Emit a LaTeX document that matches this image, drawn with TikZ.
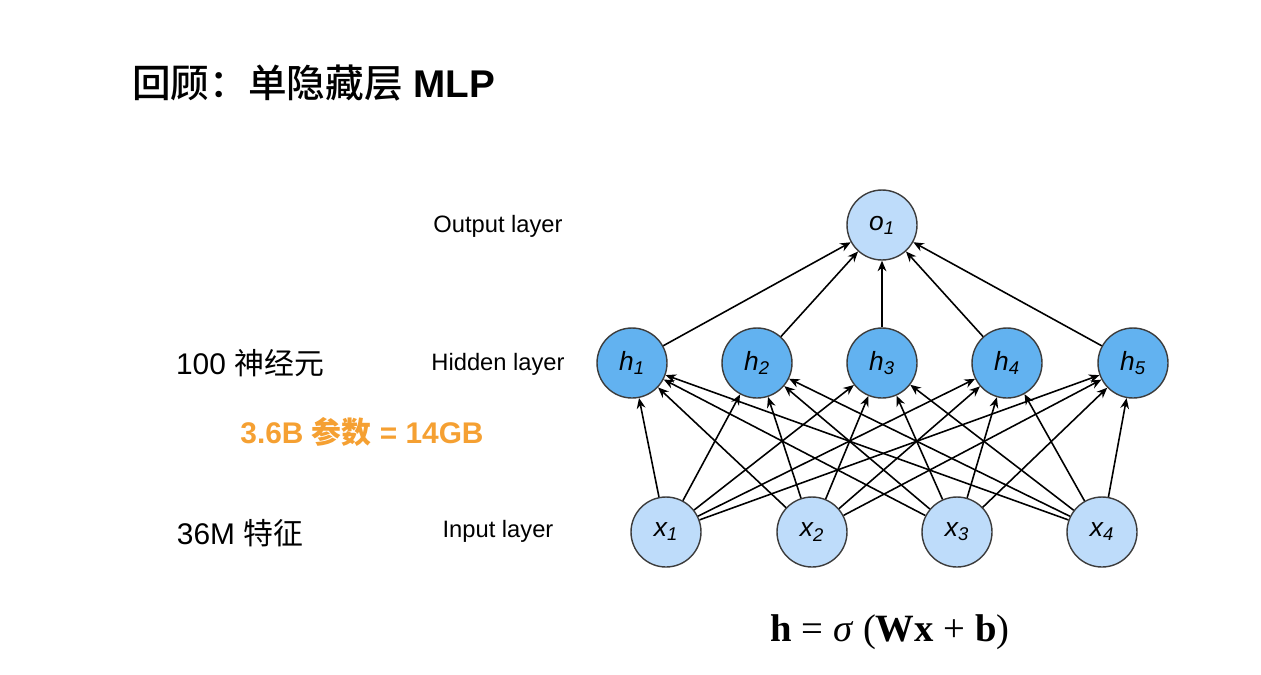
\documentclass[tikz,border=0pt]{standalone}
\usepackage{fontspec}
\setmainfont{Liberation Sans}
\newfontfamily\cjk{Noto Sans CJK SC}
\newfontfamily\cjkm{Noto Sans CJK SC Medium}
\newfontfamily\serif{Liberation Serif}
\usetikzlibrary{arrows.meta}
\definecolor{hidfill}{RGB}{98,178,240}
\definecolor{lightfill}{RGB}{190,220,250}
\definecolor{ringcol}{RGB}{60,60,60}
\definecolor{accent}{RGB}{245,160,50}

\begin{document}
\begin{tikzpicture}[
    x = 0.02cm, y = -0.02cm,
    unit/.style = {circle, draw = ringcol, line width = 0.8pt, minimum size = 1.4cm,
                   inner sep = 0pt, font = \fontsize{15}{18}\selectfont\itshape},
    hid/.style = {unit, fill = hidfill},
    vis/.style = {unit, fill = lightfill},
    wire/.style = {-{Stealth[length=6pt,width=5pt]}, line width = 0.9pt},
    layer/.style = {font = \fontsize{13.5}{16}\selectfont},
    note/.style = {font = \fontsize{17}{20}\selectfont}]

\useasboundingbox (0,0) rectangle (1261,674);

% title and side notes
\node[anchor = west, font = \fontsize{22}{26}\selectfont] (title) at (126,83) {{\cjkm 回顾：单隐藏层} {\bfseries MLP}};
\node[note] (neurons) at (250,363) {100 {\cjk 神经元}};
\node[note, font = \fontsize{17}{20}\selectfont\bfseries, text = accent] (params) at (362,432) {3.6B {\cjk\bfseries 参数} = 14GB};
\node[note] (features) at (240,533) {36M {\cjk 特征}};

\node[layer] (outlab) at (498,226) {Output layer};
\node[layer] (hidlab) at (498,364) {Hidden layer};
\node[layer] (inlab)  at (498,531) {Input layer};

% units
\node[vis] (o1) at (882,225) {o\textsubscript{1}};
\foreach \i/\xx in {1/632, 2/757, 3/882, 4/1007, 5/1133}
  \node[hid] (h\i) at (\xx,363) {h\textsubscript{\i}};
\foreach \i/\xx in {1/666, 2/812, 3/957, 4/1102}
  \node[vis] (x\i) at (\xx,532) {x\textsubscript{\i}};

% connections
\foreach \i in {1,...,4}
  \foreach \j in {1,...,5}
    \draw[wire] (x\i) -- (h\j);
\foreach \j in {1,...,5}
  \draw[wire] (h\j) -- (o1);

\node[font = \fontsize{22}{26}\selectfont\serif] (eq) at (890,632)
  {\textbf{h} = \textit{σ} (\textbf{Wx} + \textbf{b})};
\end{tikzpicture}
\end{document}
